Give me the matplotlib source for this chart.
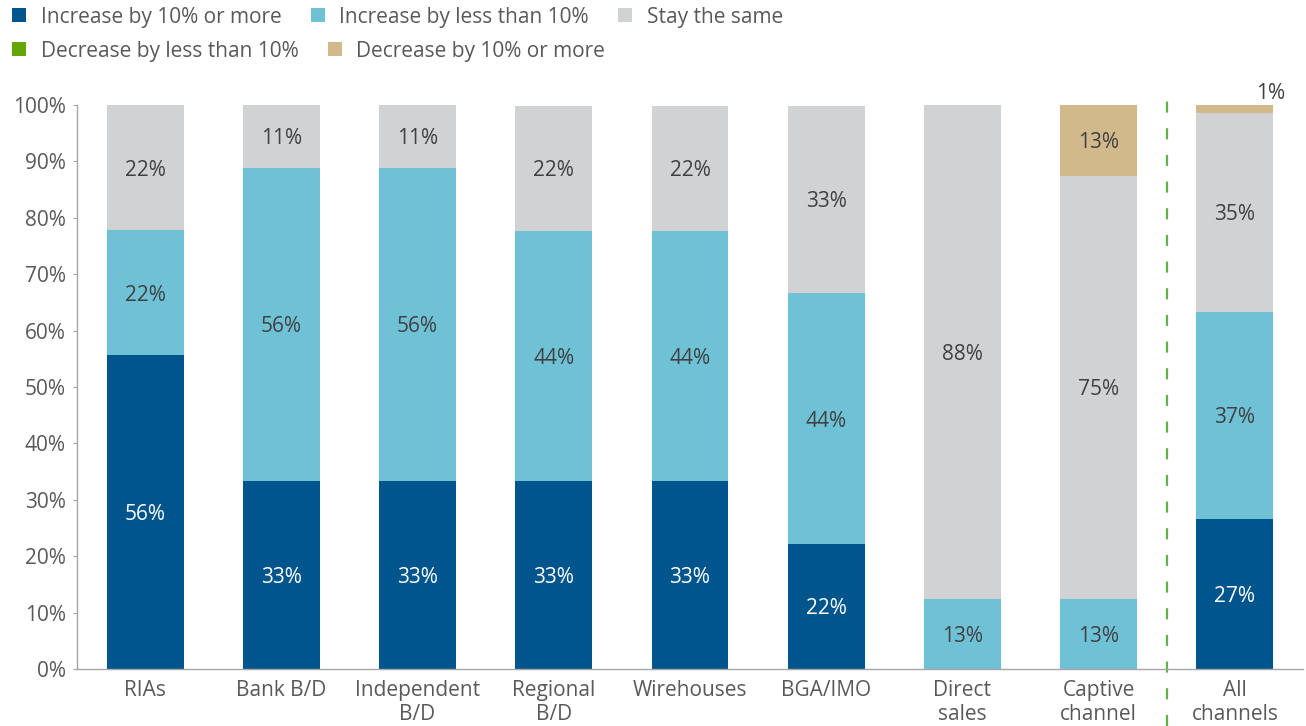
import matplotlib.pyplot as plt
from matplotlib.patches import Patch
import numpy as np

plt.rcParams['font.family'] = ['Open Sans', 'DejaVu Sans']

channels = ["RIAs", "Bank B/D", "Independent\nB/D", "Regional\nB/D", "Wirehouses",
            "BGA/IMO", "Direct\nsales", "Captive\nchannel", "All\nchannels"]

inc_10_more = [55.6, 33.3, 33.3, 33.3, 33.3, 22.2, 0.0, 0.0, 26.6]
inc_less_10 = [22.2, 55.6, 55.6, 44.4, 44.4, 44.4, 12.5, 12.5, 36.7]
stay_same = [22.2, 11.1, 11.1, 22.2, 22.2, 33.3, 87.5, 75.0, 35.3]
dec_less_10 = [0.0, 0.0, 0.0, 0.0, 0.0, 0.0, 0.0, 0.0, 0.0]
dec_10_more = [0.0, 0.0, 0.0, 0.0, 0.0, 0.0, 0.0, 12.5, 1.4]

series_names = ["Increase by 10% or more", "Increase by less than 10%", "Stay the same",
                "Decrease by less than 10%", "Decrease by 10% or more"]
colors = ["#00558C", "#6FC2D6", "#D1D2D4", "#62A60A", "#D2B98C"]
text_colors = ["white", "#404040", "#404040", "#404040", "#404040"]

GREY_TXT = "#595959"
FS = 15

fig = plt.figure(figsize=(13.06, 7.26), dpi=100)
ax = fig.add_axes([77 / 1306, 57 / 726, 1226 / 1306, 564 / 726])

x = np.arange(len(channels))
width = 0.565
bottom = np.zeros(len(channels))
all_series = [inc_10_more, inc_less_10, stay_same, dec_less_10, dec_10_more]

for vals, col, tcol in zip(all_series, colors, text_colors):
    vals = np.array(vals)
    ax.bar(x, vals, width, bottom=bottom, color=col, linewidth=0)
    for i, v in enumerate(vals):
        if v <= 0:
            continue
        lab = "%d%%" % int(v + 0.5)
        if v < 5:
            # too thin to hold the label, put it above the bar
            ax.text(x[i] + 0.26, bottom[i] + v + 0.2, lab, ha='center', va='bottom',
                    fontsize=FS, color="#404040")
        else:
            ax.text(x[i], bottom[i] + v / 2, lab, ha='center', va='center_baseline',
                    fontsize=FS, color=tcol)
    bottom += vals

# separator between channels and the total
ax.axvline(7.5, ymin=-0.101, ymax=1.032, color="#62B345", lw=1.6,
           linestyle=(0, (5, 7)), clip_on=False)

ax.set_xlim(-0.5, 8.5)
ax.set_ylim(0, 100)
ax.set_yticks(np.arange(0, 101, 10))
ax.set_yticklabels(["%d%%" % t for t in range(0, 101, 10)])
ax.set_xticks(x)
ax.set_xticklabels(channels)

for s in ['top', 'right']:
    ax.spines[s].set_visible(False)
for s in ['left', 'bottom']:
    ax.spines[s].set_color("#A6A6A6")
    ax.spines[s].set_linewidth(1)

ax.tick_params(axis='y', length=3, color="#A6A6A6", labelsize=FS, labelcolor=GREY_TXT, pad=5)
ax.tick_params(axis='x', length=0, labelsize=FS, labelcolor=GREY_TXT, pad=8)

handles = [Patch(facecolor=c, edgecolor='none', label=n) for c, n in zip(colors, series_names)]
leg_kw = dict(loc='center left', frameon=False, fontsize=FS, handlelength=0.68,
              handleheight=0.68, handletextpad=0.7, columnspacing=1.4,
              borderpad=0, borderaxespad=0, labelcolor=GREY_TXT)
fig.legend(handles=handles[:3], ncol=3, bbox_to_anchor=(12 / 1306, 1 - 17 / 726), **leg_kw)
fig.legend(handles=handles[3:], ncol=2, bbox_to_anchor=(12 / 1306, 1 - 51 / 726), **leg_kw)

fig.savefig("out.png", dpi=100)
